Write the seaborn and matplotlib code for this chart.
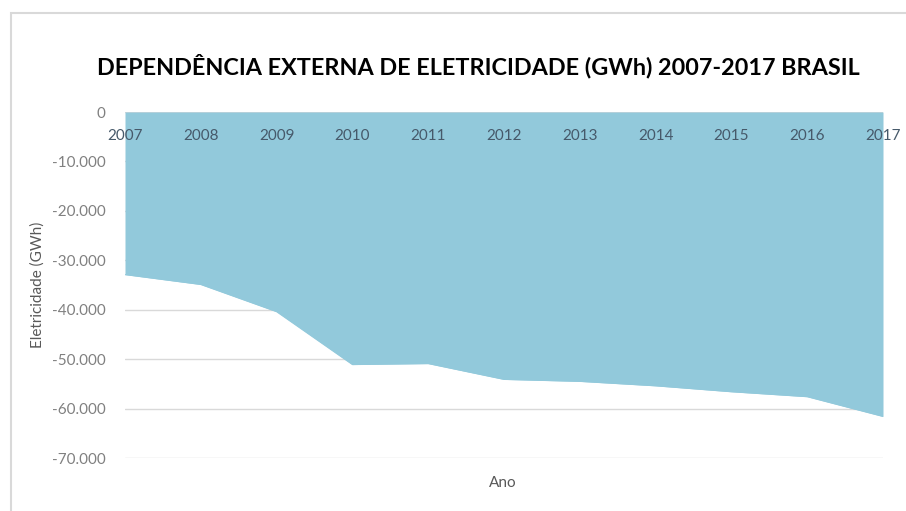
import matplotlib
matplotlib.use("Agg")
import matplotlib.pyplot as plt
import matplotlib.ticker as mticker
from matplotlib.patches import Rectangle
import seaborn as sns
import pandas as pd

# Brazil: net external dependence on electricity (GWh), 2007-2017
anos = [2007, 2008, 2009, 2010, 2011, 2012, 2013, 2014, 2015, 2016, 2017]
eletricidade = [-32900, -34900, -40400, -51100, -50900, -54100,
                -54500, -55400, -56600, -57600, -61600]
y_ticks = [0, -10000, -20000, -30000, -40000, -50000, -60000, -70000]

titulo = "DEPENDÊNCIA EXTERNA DE ELETRICIDADE (GWh) 2007-2017 BRASIL"
rotulo_y = "Eletricidade (GWh)"
rotulo_x = "Ano"

df = pd.DataFrame({"Ano": anos, "Eletricidade": eletricidade})

sns.set_theme(style="white")
plt.rcParams["font.family"] = ["Lato", "DejaVu Sans"]

fill_color = "#92C9DB"
tick_gray = "#808080"
label_gray = "#595959"

fig = plt.figure(figsize=(9.06, 5.11), dpi=100)
fig.patch.set_facecolor("white")

# light chart-area frame (left and top edges visible)
fig.patches.append(Rectangle((11 / 906, -0.1), 1.2, 1 - 13 / 511 + 0.1,
                             transform=fig.transFigure, fill=False,
                             edgecolor="#D9D9D9", linewidth=1.5))

ax = fig.add_axes([125 / 906, 1 - 458 / 511, 758 / 906, 346 / 511])

sns.lineplot(data=df, x="Ano", y="Eletricidade", ax=ax,
             color=fill_color, linewidth=0.8, zorder=2)
ax.fill_between(df["Ano"], df["Eletricidade"], 0,
                color=fill_color, linewidth=0, zorder=1)

ax.set_xlim(anos[0], anos[-1])
ax.set_ylim(y_ticks[-1], y_ticks[0])
ax.set_yticks(y_ticks)
ax.yaxis.set_major_formatter(
    mticker.FuncFormatter(lambda v, _: f"{v:,.0f}".replace(",", ".").replace("\u2212", "-")))
ax.set_xticks(anos)
ax.set_xticklabels([str(a) for a in anos])

ax.grid(axis="y", color="#D9D9D9", linewidth=1)
ax.grid(axis="x", visible=False)
ax.set_axisbelow(True)
ax.xaxis.set_zorder(3)

for s in ax.spines.values():
    s.set_visible(False)

ax.tick_params(axis="y", length=0, pad=14, labelsize=11, labelcolor=tick_gray)
ax.xaxis.set_ticks_position("top")
ax.tick_params(axis="x", length=0, labeltop=True, labelbottom=False,
               pad=-22, labelsize=11, labelcolor="#46596A")

ax.set_xlabel("")
ax.set_ylabel("")
fig.text(38 / 906, 1 - 285 / 511, rotulo_y, rotation=90, ha="center",
         va="center", fontsize=11, color=label_gray)
fig.text(503 / 906, 1 - 483 / 511, rotulo_x, ha="center", va="center",
         fontsize=11, color=label_gray)
fig.text(478 / 906, 1 - 66 / 511, titulo, ha="center", va="center",
         fontsize=16.8, fontweight="bold", color="#000000")

fig.savefig("out.png", dpi=100, facecolor="white")
